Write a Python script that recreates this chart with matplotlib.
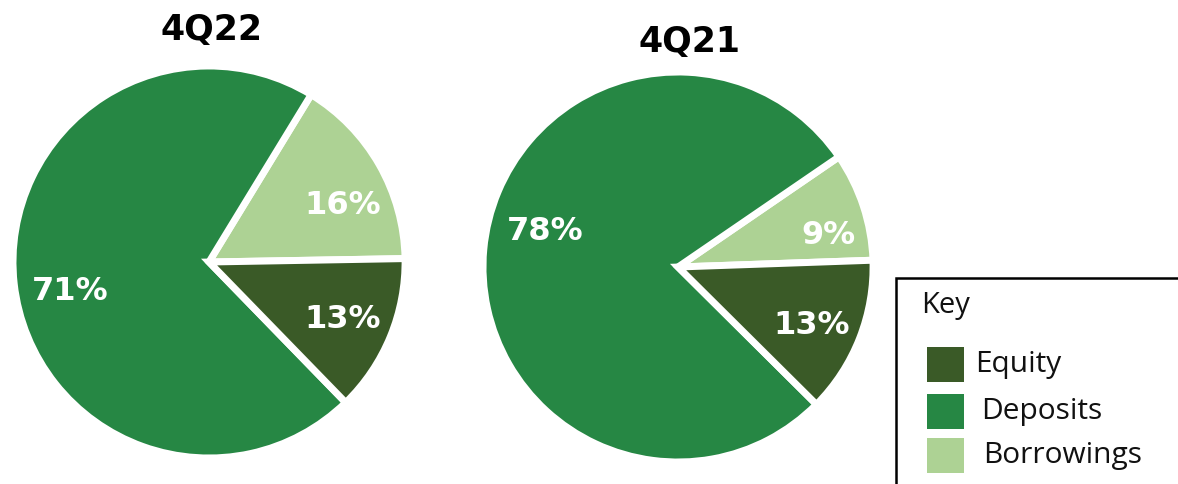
import matplotlib
matplotlib.use("Agg")
import matplotlib.pyplot as plt
from matplotlib.patches import Rectangle

# ---- data ----
categories = ["Borrowings", "Deposits", "Equity"]
values_4q22 = [16, 71, 13]
values_4q21 = [9, 78, 13]
titles = ["4Q22", "4Q21"]
legend_order = ["Equity", "Deposits", "Borrowings"]

colors = {"Equity": "#3A5A27", "Deposits": "#268744", "Borrowings": "#ADD294"}

W, H = 1178, 484
fig = plt.figure(figsize=(W / 100, H / 100), dpi=100)
ax = fig.add_axes([0, 0, 1, 1])

def Y(y_top):
    return H - y_top

pies = [
    dict(vals=values_4q22, title=titles[0], center=(209, Y(262)), r=196, start=1.0,
         title_xy=(211, Y(30)),
         label_xy=[(343, Y(205)), (70, Y(292)), (343, Y(320))]),
    dict(vals=values_4q21, title=titles[1], center=(678, Y(267)), r=195, start=2.0,
         title_xy=(690, Y(42)),
         label_xy=[(828, Y(236)), (545, Y(232)), (812, Y(326))]),
]

for p in pies:
    wedges, _ = ax.pie(p["vals"], colors=[colors[c] for c in categories],
                       startangle=p["start"], counterclock=True,
                       center=p["center"], radius=p["r"],
                       explode=[0.06, 0.0, 0.07],
                       wedgeprops=dict(edgecolor="white", linewidth=5),
                       frame=True)
    ax.text(p["title_xy"][0], p["title_xy"][1], p["title"], ha="center", va="center",
            fontsize=25, fontweight="bold", family="DejaVu Sans", color="black")
    for v, (lx, ly) in zip(p["vals"], p["label_xy"]):
        ax.text(lx, ly, f"{v}%", ha="center", va="center", fontsize=23,
                fontweight="bold", family="DejaVu Sans", color="white")

# ---- key box ----
ax.plot([896, 896, W + 5], [-5, Y(278), Y(278)], color="black", lw=1.8,
        solid_joinstyle="miter", clip_on=False)
ax.text(921, Y(305), "Key", ha="left", va="center", fontsize=21,
        family="Open Sans", color="#111111")
sq_y = [Y(382), Y(429), Y(473)]
txt_x = [975, 981, 983]
for name, sy, tx in zip(legend_order, sq_y, txt_x):
    ax.add_patch(Rectangle((927, sy), 37, 35, facecolor=colors[name], edgecolor="none"))
    ax.text(tx, sy + 17.5, name, ha="left", va="center", fontsize=21.5,
            family="Open Sans", color="#111111")

ax.set_xlim(0, W)
ax.set_ylim(0, H)
ax.set_aspect("equal")
ax.axis("off")

fig.savefig("out.png", dpi=100, facecolor="white")
